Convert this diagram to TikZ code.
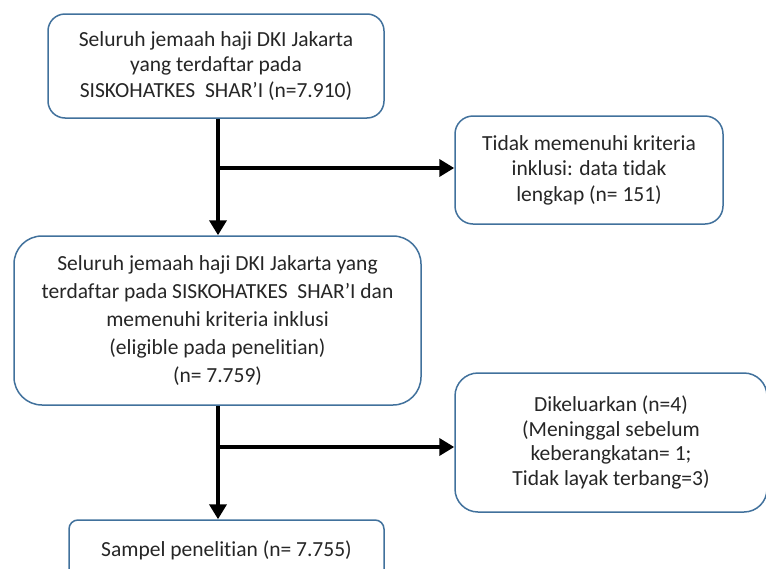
\documentclass[tikz,border=0pt]{standalone}
\usepackage{fontspec}
\setmainfont[Ligatures=NoCommon]{Carlito}
\usetikzlibrary{arrows.meta,positioning}
\definecolor{boxline}{HTML}{41719C}
\definecolor{ink}{HTML}{262626}
\tikzset{>={Triangle[width=17pt,length=15pt]},
  flowbox/.style={draw=boxline,line width=1.5pt,fill=white,align=center,text=ink,
    font=\fontsize{21.5}{25.5}\selectfont,inner sep=0pt},
  flow/.style={->,line width=4.5pt}}

\begin{document}
\begin{tikzpicture}[x=1pt,y=-1pt]
\clip (0,0) rectangle (766,568);
\node[flowbox,minimum width=336pt,minimum height=104pt,rounded corners=17pt] (whole) at (216,66)
  {Seluruh jemaah haji DKI Jakarta\\yang terdaftar pada\\SISKOHATKES~ SHAR’I (n=7.910)};
\node[flowbox,minimum width=268pt,minimum height=108pt,rounded corners=18pt] (excl1) at (589,170)
  {Tidak memenuhi kriteria\\inklusi: data tidak\\lengkap (n= 151)};
\node[flowbox,minimum width=407pt,minimum height=169pt,rounded corners=28pt,
  font=\fontsize{21.5}{28}\selectfont] (elig) at (217.5,320.5)
  {Seluruh jemaah haji DKI Jakarta yang\\terdaftar pada SISKOHATKES~ SHAR’I dan\\memenuhi kriteria inklusi\\(eligible pada penelitian)\\(n= 7.759)};
\node[flowbox,minimum width=312pt,minimum height=139pt,rounded corners=23pt,
  font=\fontsize{21.5}{24.5}\selectfont] (excl2) at (611,442.5)
  {Dikeluarkan (n=4)\\(Meninggal sebelum\\keberangkatan= 1;\\Tidak layak terbang=3)};
\node[flowbox,minimum width=315pt,minimum height=60pt,rounded corners=9pt] (sample) at (226.5,550)
  {Sampel penelitian (n= 7.755)};
% branches
\coordinate (split1) at (218,168);\coordinate (split2) at (218,447);
\draw[flow] (whole.south -| split1) -- (elig.north -| split1);
\draw[flow] (split1) -- (excl1.west |- split1);
\draw[flow] (elig.south -| split2) -- (sample.north -| split2);
\draw[flow] (split2) -- (excl2.west |- split2);
\end{tikzpicture}
\end{document}
